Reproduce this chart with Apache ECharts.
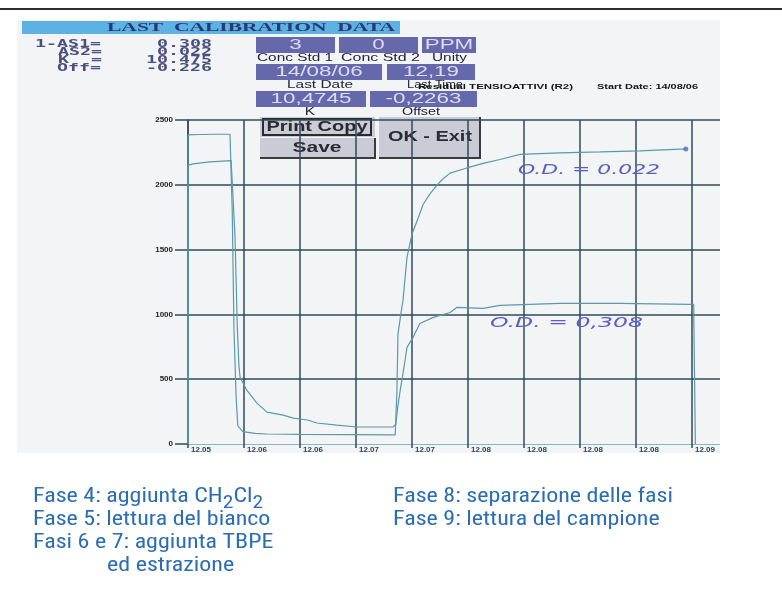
<!DOCTYPE html>
<html>
<head>
<meta charset="utf-8">
<script src="https://cdn.jsdelivr.net/npm/echarts@6.0.0/dist/echarts.min.js"></script>
<style>
  html, body { margin: 0; padding: 0; background: #ffffff; }
  #chart { width: 782px; height: 606px; }
</style>
</head>
<body>
<div id="chart"></div>
<script>
// ---- data ---------------------------------------------------------------
// clock readings printed under each vertical division of the time axis
const timeLabels = ['12.05', '12.06', '12.06', '12.07', '12.07', '12.08', '12.08', '12.08', '12.08', '12.09'];
// detector counts axis
const countTicks = [0, 500, 1000, 1500, 2000, 2500];

// trace ending high (standard 2), [time division, counts]
const traceStd2 = [
  [0, 0], [0, 2385], [0.21, 2388], [0.48, 2390], [0.75, 2390], [0.79, 1800], [0.82, 900],
  [0.86, 350], [0.89, 140], [0.98, 95], [1.2, 82], [1.41, 77], [2.0, 74], [2.89, 72],
  [3.7, 70], [3.73, 400], [3.75, 850], [3.8, 1000], [3.84, 1110], [3.88, 1300], [3.91, 1440],
  [4.0, 1620], [4.09, 1720], [4.2, 1850], [4.32, 1930], [4.45, 2000], [4.55, 2045],
  [4.68, 2090], [4.98, 2130], [5.27, 2165], [5.57, 2195], [5.93, 2235], [6.64, 2246],
  [7.36, 2254], [8.07, 2262], [8.89, 2277]
];
// trace ending low (standard 1)
const traceStd1 = [
  [0, 0], [0, 2150], [0.09, 2162], [0.39, 2177], [0.77, 2187], [0.8, 2190], [0.84, 1600],
  [0.88, 900], [0.91, 600], [0.93, 515], [1.05, 415], [1.23, 315], [1.41, 246], [1.7, 223],
  [1.88, 200], [2.13, 185], [2.3, 162], [2.66, 146], [3.02, 131], [3.48, 131], [3.66, 131],
  [3.71, 150], [3.75, 300], [3.79, 415], [3.86, 600], [3.91, 746], [4.02, 823], [4.14, 930],
  [4.38, 977], [4.68, 1015], [4.8, 1054], [5.27, 1046], [5.57, 1069], [6.64, 1085],
  [7.71, 1085], [8.96, 1077], [9.03, 1077], [9.06, 0]
];

// calibration panel contents
const calibNames = ['1-AS1=', 'AS2=', 'K  =', 'Off='];
const calibValues = ['0.308', '0.022', '10.475', '-0.226'];
const concStd = ['3', '0', 'PPM'];
const concLabels = ['Conc Std 1', 'Conc Std 2', 'Unity'];
const lastRun = ['14/08/06', '12,19'];
const lastRunLabels = ['Last Date', 'Last Time'];
const fitValues = ['10,4745', '-0,2263'];
const fitLabels = ['K', 'Offset'];
const buttons = ['Print Copy', 'Save', 'OK - Exit'];
const notes = ['O.D. = 0.022', 'O.D. = 0,308'];
const phaseLeft = ['Fase 5: lettura del bianco', 'Fasi 6 e 7: aggiunta TBPE', 'ed estrazione'];
const phaseRight = ['Fase 8: separazione delle fasi', 'Fase 9: lettura del campione'];

// ---- text helpers -------------------------------------------------------
const measureCtx = document.createElement('canvas').getContext('2d');
function textWidth(text, font) {
  measureCtx.font = font;
  return measureCtx.measureText(text).width;
}
function txt(text, x, y, font, color, opts) {
  opts = opts || {};
  let sx = opts.sx || 1;
  if (opts.width) sx = opts.width / textWidth(text, font);
  const align = opts.align || 'left';
  return {
    type: 'text', x: x, y: y, scaleX: sx, z: opts.z == null ? 2 : opts.z, silent: true,
    style: {
      text: text, font: font, fill: color,
      align: align, textAlign: align,
      verticalAlign: 'middle', textVerticalAlign: 'middle'
    }
  };
}
function rect(x, y, w, h, fill, z, stroke, lw) {
  return {
    type: 'rect', z: z == null ? 1 : z, silent: true,
    shape: { x: x, y: y, width: w, height: h },
    style: { fill: fill || 'none', stroke: stroke || null, lineWidth: lw || 0 }
  };
}
function poly(points, color, lw, z) {
  return {
    type: 'polyline', z: z == null ? 1 : z, silent: true,
    shape: { points: points },
    style: { stroke: color, lineWidth: lw, fill: 'none' }
  };
}
// a line of text made of normal and subscript runs
function runs(parts, x, y, size, family, color, sx) {
  const subSize = Math.round(size * 0.9);
  const out = [];
  let cx = x;
  parts.forEach(p => {
    const f = (p.sub ? subSize : size) + 'px ' + family;
    out.push(txt(p.t, cx, y + (p.sub ? size * 0.3 : 0), f, color, { sx: sx, z: 2 }));
    cx += textWidth(p.t, f) * sx;
  });
  return out;
}

// ---- panel graphics -----------------------------------------------------
const SANS = '"Liberation Sans", Arial, sans-serif';
const MONO = '"DejaVu Sans Mono", monospace';
const FOOTFONT = '"Roboto Condensed", "Liberation Sans Narrow", Roboto, sans-serif';
const BOX = '#6668ac', BOXTEXT = '#dddcf6', LABEL = '#24243c', BTN = '#cbcbd5';

const g = [];
g.push(rect(0, 8, 782, 2, '#2e2e2e', 1));
g.push(rect(17, 20, 703, 433, '#f3f4f6', 0));
g.push(rect(22, 21, 378, 13, '#5cb2e4', 1));
g.push(txt('LAST  CALIBRATION  DATA', 107, 28, 'bold 13px "Liberation Serif", serif', '#2b3a6e', { width: 288 }));

// coefficients block
const rowsY = [44, 52, 60, 68];
const nameX = [35, 58, 58, 57];
calibNames.forEach((n, i) => g.push(txt(n, nameX[i], rowsY[i], 'bold 10px ' + MONO, '#4a4f7e', { sx: 1.83 })));
calibValues.forEach((v, i) => g.push(txt(v, 212, rowsY[i], 'bold 10px ' + MONO, '#4a4f7e', { sx: 1.83, align: 'right' })));

// concentration boxes
const concBox = [[256, 79], [339, 79], [422, 54]];
concStd.forEach((v, i) => {
  const b = concBox[i];
  g.push(rect(b[0], 37, b[1], 16, BOX, 1));
  g.push(txt(v, b[0] + b[1] / 2, 45.5, '14px ' + SANS, BOXTEXT, { sx: 1.6, align: 'center' }));
});
const concLabX = [[257, 76], [341, 79], [432, 35]];
concLabels.forEach((l, i) => g.push(txt(l, concLabX[i][0], 58, '11px ' + SANS, LABEL, { width: concLabX[i][1] })));

// last run boxes
const runBox = [[256, 126], [387, 88]];
lastRun.forEach((v, i) => {
  const b = runBox[i];
  g.push(rect(b[0], 64, b[1], 16, BOX, 1));
  g.push(txt(v, b[0] + b[1] / 2, 72.5, '14px ' + SANS, BOXTEXT, { sx: 1.6, align: 'center' }));
});
const runLabX = [[287, 66], [407, 56]];
lastRunLabels.forEach((l, i) => g.push(txt(l, runLabX[i][0], 85, '11px ' + SANS, LABEL, { width: runLabX[i][1] })));

// fit result boxes
const fitBox = [[256, 110], [370, 107]];
fitValues.forEach((v, i) => {
  const b = fitBox[i];
  g.push(rect(b[0], 91, b[1], 16, BOX, 1));
  g.push(txt(v, b[0] + b[1] / 2, 99.5, '14px ' + SANS, BOXTEXT, { sx: 1.6, align: 'center' }));
});
g.push(txt(fitLabels[0], 310, 112, '11px ' + SANS, LABEL, { sx: 1.4, align: 'center' }));
g.push(txt(fitLabels[1], 402, 112, '11px ' + SANS, LABEL, { width: 38 }));

// buttons (the plot grid is drawn over them)
g.push(rect(260, 117, 115, 20, BTN, 1));
g.push(rect(263, 119, 108, 16, null, 1, '#2a2a32', 2));
g.push(txt(buttons[0], 317, 127.5, 'bold 14px ' + SANS, '#2a2a34', { width: 101, align: 'center' }));
g.push(rect(260, 138, 115, 20, BTN, 1));
g.push(poly([[375, 138], [375, 158], [260, 158]], '#3a3a44', 2, 1));
g.push(txt(buttons[1], 317, 148.5, 'bold 14px ' + SANS, '#2a2a34', { width: 49, align: 'center' }));
g.push(rect(379, 117, 101, 41, BTN, 1));
g.push(poly([[480, 117], [480, 158], [379, 158]], '#3a3a44', 2, 1));
g.push(txt(buttons[2], 430, 137.5, 'bold 14px ' + SANS, '#2a2a34', { width: 84, align: 'center' }));

// plot title line
g.push(txt('Residual TENSIOATTIVI (R2)', 418, 87, 'bold 8px ' + SANS, '#151515', { width: 155, z: 3 }));
g.push(txt('Start Date: 14/08/06', 597, 87, 'bold 8px ' + SANS, '#151515', { width: 101, z: 3 }));

// the screen capture ends at x = 720
g.push(rect(720, 12, 62, 450, '#ffffff', 10));

// handwritten notes
g.push(txt(notes[0], 518, 170, 'italic 14px "DejaVu Sans", sans-serif', '#5a5ec4', { width: 142, z: 11 }));
g.push(txt(notes[1], 490, 323, 'italic 14px "DejaVu Sans", sans-serif', '#5a5ec4', { width: 153, z: 11 }));

// phase legend, one common horizontal stretch for every line
const FOOT = '#2a6db5', FOOTSIZE = 20;
const footFont = FOOTSIZE + 'px ' + FOOTFONT;
const footSx = 280 / textWidth(phaseRight[0], footFont);
runs([{ t: 'Fase 4: aggiunta CH' }, { t: '2', sub: true }, { t: 'Cl' }, { t: '2', sub: true }], 33, 497, FOOTSIZE, FOOTFONT, FOOT, footSx)
  .forEach(e => g.push(e));
g.push(txt(phaseLeft[0], 33, 520, footFont, FOOT, { sx: footSx }));
g.push(txt(phaseLeft[1], 33, 543, footFont, FOOT, { sx: footSx }));
g.push(txt(phaseLeft[2], 107, 566, footFont, FOOT, { sx: footSx }));
g.push(txt(phaseRight[0], 393, 497, footFont, FOOT, { sx: footSx }));
g.push(txt(phaseRight[1], 393, 520, footFont, FOOT, { sx: footSx }));

// ---- chart ----------------------------------------------------------------
const GRIDLINE = '#2f4b57', TRACE = '#5b99aa';
const chart = echarts.init(document.getElementById('chart'), null, { renderer: 'canvas' });
chart.setOption({
  animation: false,
  backgroundColor: '#ffffff',
  grid: { left: 188, top: 120, width: 560, height: 324, containLabel: false },
  xAxis: {
    type: 'value', min: 0, max: 10, interval: 1, z: 3,
    axisLine: { show: true, lineStyle: { color: '#8ab6c2', width: 1 } },
    axisTick: { show: true, length: 4, lineStyle: { color: GRIDLINE, width: 1.5 } },
    axisLabel: {
      formatter: v => timeLabels[Math.round(v)] || '',
      align: 'left', margin: 2, padding: [0, 0, 0, 3],
      fontSize: 8, fontWeight: 'bold', color: '#2c4652', fontFamily: 'Liberation Sans'
    },
    splitLine: { show: true, lineStyle: { color: GRIDLINE, width: 1.5 } }
  },
  yAxis: {
    type: 'value', min: countTicks[0], max: countTicks[countTicks.length - 1],
    interval: countTicks[1] - countTicks[0], z: 3,
    axisLine: { show: true, lineStyle: { color: GRIDLINE, width: 1.5 } },
    axisTick: { show: true, length: 13, lineStyle: { color: GRIDLINE, width: 1.5 } },
    axisLabel: {
      formatter: v => String(v),
      margin: 15, fontSize: 8, fontWeight: 'bold', color: '#222', fontFamily: 'Liberation Sans'
    },
    splitLine: { show: true, showMinLine: false, lineStyle: { color: GRIDLINE, width: 1.5 } }
  },
  series: [
    { type: 'line', data: traceStd2, symbol: 'none', z: 4, lineStyle: { color: TRACE, width: 1.2 } },
    { type: 'line', data: traceStd1, symbol: 'none', z: 4, lineStyle: { color: TRACE, width: 1.2 } },
    {
      type: 'scatter', data: [traceStd2[traceStd2.length - 1]], z: 5,
      symbol: 'circle', symbolSize: 5, itemStyle: { color: '#5a6ab8' }
    }
  ],
  graphic: { elements: g }
});
</script>
</body>
</html>
